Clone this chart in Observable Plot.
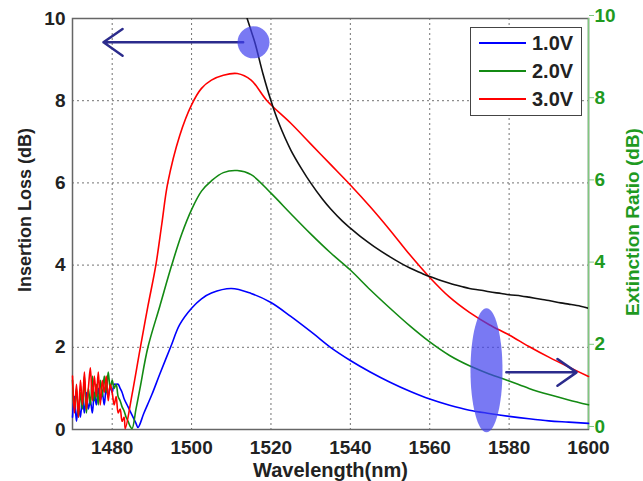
<!DOCTYPE html>
<html>
<head>
<meta charset="utf-8">
<script src="https://cdn.jsdelivr.net/npm/d3@7"></script>
<script src="https://cdn.jsdelivr.net/npm/@observablehq/plot@0.6"></script>
<style>
  html, body { margin: 0; padding: 0; background: #fff; }
  #wrap { position: relative; width: 643px; height: 481px; font-family: "Liberation Sans", Arial, sans-serif; }
  #legend { position: absolute; left: 470px; top: 27px; width: 110px; height: 87px; border: 1.5px solid #444; background: #fff; }
  #legend .row { position: absolute; left: 0; height: 24px; display: flex; align-items: center; }
  #legend .ln { width: 47px; height: 0; border-top: 2px solid; margin-left: 8px; margin-right: 6px; }
  #legend .tx { font-size: 20px; font-weight: bold; color: #222; }
</style>
</head>
<body>
<div id="wrap"><div id="chart"></div>
<div id="legend"></div>
</div>
<script>
// ---- data ----
const seriesNames = ["1.0V", "2.0V", "3.0V"];
const seriesColors = ["#0000ff", "#138a13", "#ff0000"];

const blueX = [1470,1470.5,1471,1471.5,1472,1472.5,1473,1473.5,1474,1474.5,1475,1475.5,1476,1476.5,1477,1477.5,1478,1478.5,1479,1479.5,1480,1480.5,1481,1481.5,1482,1482.5,1483,1484,1485,1486,1486.5,1488,1490,1492,1494.7,1497,1500,1502.5,1505,1510,1515,1520,1525,1530.7,1535,1540,1545,1550,1555,1560,1565,1570,1575,1580,1585,1590,1595,1600];
const blueY = [0.3,0.8,0.2,0.6,0.3,0.8,0.4,0.9,0.5,0.7,0.4,0.9,0.6,1.0,0.7,0.9,0.6,1.0,0.8,1.05,0.9,1.1,1.1,1.1,1.0,0.9,0.75,0.55,0.35,0.15,0.05,0.4,0.85,1.35,2.0,2.55,2.95,3.18,3.32,3.43,3.31,3.09,2.75,2.33,2.0,1.68,1.4,1.15,0.93,0.74,0.59,0.47,0.39,0.32,0.26,0.21,0.18,0.15];

const greenX = [1470,1470.5,1471,1471.5,1472,1472.5,1473,1473.5,1474,1474.5,1475,1475.5,1476,1476.5,1477,1477.5,1478,1478.5,1479,1479.5,1480,1480.5,1481,1481.5,1482,1482.5,1483,1483.5,1484,1484.5,1485,1486,1487,1489,1492,1495,1497.5,1500,1502.5,1505,1508,1511.5,1515,1520,1525,1530,1535,1540,1545,1550,1555,1560,1565,1570,1575,1580,1585,1590,1595,1600];
const greenY = [1.2,0.5,1.0,0.3,0.9,0.5,1.3,0.4,1.0,0.6,1.3,0.7,1.1,0.6,1.2,0.8,1.3,0.9,1.4,1.0,1.2,1.0,1.1,0.8,0.7,0.55,0.45,0.3,0.2,0.08,0.02,0.5,1.0,2.0,3.0,4.0,4.75,5.35,5.8,6.05,6.25,6.3,6.2,5.75,5.25,4.76,4.3,3.88,3.4,2.95,2.52,2.13,1.8,1.55,1.35,1.18,1.0,0.85,0.72,0.6];

const redX = [1470,1470.5,1471,1471.5,1472,1472.5,1473,1473.5,1474,1474.5,1475,1475.5,1476,1476.5,1477,1477.5,1478,1478.5,1479,1479.5,1480,1480.5,1481,1481.5,1482,1482.5,1483,1483.3,1485,1487.1,1489,1491,1492.5,1494,1497,1500,1502.5,1505,1508,1511.5,1515,1519,1525,1530,1535,1540,1545,1550,1555,1560,1565,1570,1575,1580,1585,1590,1595,1600];
const redY = [1.3,0.4,1.1,0.3,1.2,0.6,1.4,0.5,1.0,1.5,0.7,1.3,0.8,1.4,0.6,1.2,0.9,1.3,0.7,1.1,0.9,0.6,0.8,0.4,0.5,0.2,0.3,0.02,0.85,2.0,3.0,4.0,5.0,6.0,7.15,7.9,8.3,8.5,8.62,8.66,8.5,8.0,7.45,6.95,6.45,5.95,5.42,4.85,4.25,3.7,3.22,2.85,2.55,2.3,2.02,1.76,1.52,1.29];

const lossX = [1514,1515,1516,1518,1520,1522,1525,1528,1530,1533,1535,1538,1540,1543,1546,1550,1553,1555,1558,1560,1563,1565,1568,1570,1573,1575,1578,1580,1583,1585,1588,1590,1593,1595,1598,1600];
const lossY = [10,9.7,9.4,8.65,8.0,7.45,6.8,6.3,6.0,5.6,5.37,5.07,4.9,4.66,4.45,4.2,4.03,3.93,3.8,3.72,3.62,3.56,3.48,3.43,3.39,3.35,3.31,3.28,3.25,3.22,3.17,3.14,3.08,3.05,3.0,2.95];

const xTicks = [1480,1500,1520,1540,1560,1580,1600];
const yTicks = [0,2,4,6,8,10];

// annotations: [x, y] in data units
const circleMarker = [{x: 1515.6, y: 9.42}];
const leftArrow = [{x1: 1513, y1: 9.42, x2: 1477.8, y2: 9.42}];
const ellipseMarker = [{x: 1574.3, y: 1.44}];
const rightArrow = [{x1: 1579.3, y1: 1.39, x2: 1597, y2: 1.39}];

// ---- build ----
const rows = [];
[[blueX, blueY, 0], [greenX, greenY, 1], [redX, redY, 2]].forEach(([xs, ys, i]) => {
  xs.forEach((x, j) => rows.push({wl: x, v: ys[j], s: seriesNames[i]}));
});
const loss = lossX.map((x, j) => ({wl: x, v: lossY[j]}));

const ellipseSymbol = {
  draw(ctx) {
    const rx = 16, ry = 62, k = 0.5523;
    ctx.moveTo(rx, 0);
    ctx.bezierCurveTo(rx, ry * k, rx * k, ry, 0, ry);
    ctx.bezierCurveTo(-rx * k, ry, -rx, ry * k, -rx, 0);
    ctx.bezierCurveTo(-rx, -ry * k, -rx * k, -ry, 0, -ry);
    ctx.bezierCurveTo(rx * k, -ry, rx, -ry * k, rx, 0);
    ctx.closePath();
  }
};

const green = "#1f9a1f";
const font = "'Liberation Sans', Arial, sans-serif";

const chart = Plot.plot({
  width: 643,
  height: 481,
  marginLeft: 72,
  marginRight: 55,
  marginTop: 18,
  marginBottom: 52,
  style: {fontFamily: font, background: "#fff"},
  x: {domain: [1470, 1600]},
  y: {domain: [0, 10]},
  color: {domain: seriesNames, range: seriesColors},
  marks: [
    Plot.gridX(xTicks.slice(0, -1), {stroke: "#444", strokeOpacity: 0.75, strokeDasharray: "2,3"}),
    Plot.gridY(yTicks.slice(1, -1), {stroke: "#444", strokeOpacity: 0.75, strokeDasharray: "2,3"}),
    Plot.frame({stroke: "#666", strokeWidth: 1.5}),
    Plot.ruleX([1600], {stroke: "#80c880", strokeWidth: 1.5}),
    Plot.axisX({ticks: xTicks, tickFormat: d3.format("d"), tickSize: 0, tickPadding: 11, fontSize: 19, fontWeight: "bold", fill: "#222", label: null}),
    Plot.axisY({anchor: "left", ticks: yTicks, tickSize: 0, tickPadding: 7, fontSize: 19, fontWeight: "bold", fill: "#222", label: null}),
    Plot.axisY({anchor: "right", ticks: yTicks, tickSize: 5, tickPadding: 1, stroke: "#80c880", fill: green, fontSize: 19, fontWeight: "bold", dy: -3, label: null}),
    Plot.line(rows, {x: "wl", y: "v", z: "s", stroke: "s", strokeWidth: 1.6, curve: "catmull-rom"}),
    Plot.line(loss, {x: "wl", y: "v", stroke: "#111", strokeWidth: 1.6, curve: "catmull-rom", clip: true}),
    Plot.arrow(leftArrow, {x1: "x1", y1: "y1", x2: "x2", y2: "y2", stroke: "#2b2b8c", strokeWidth: 2.5, headLength: 14, headAngle: 70}),
    Plot.arrow(rightArrow, {x1: "x1", y1: "y1", x2: "x2", y2: "y2", stroke: "#2b2b8c", strokeWidth: 2.5, headLength: 14, headAngle: 70}),
    Plot.dot(circleMarker, {x: "x", y: "y", r: 16, fill: "#4040ee", fillOpacity: 0.7, stroke: "none"}),
    Plot.dot(ellipseMarker, {x: "x", y: "y", symbol: ellipseSymbol, fill: "#4040ee", fillOpacity: 0.7, stroke: "none"}),
    Plot.text(["Insertion Loss (dB)"], {frameAnchor: "left", rotate: -90, dx: -47, dy: -14, fontSize: 18, fontWeight: "bold", fill: "#222", textAnchor: "middle", lineAnchor: "middle"}),
    Plot.text(["Extinction Ratio (dB)"], {frameAnchor: "right", rotate: -90, dx: 44, dy: -2, fontSize: 19, fontWeight: "bold", fill: green, textAnchor: "middle", lineAnchor: "middle"}),
    Plot.text(["Wavelength(nm)"], {frameAnchor: "bottom", dy: 41, fontSize: 20, fontWeight: "bold", fill: "#222", textAnchor: "middle", lineAnchor: "middle"})
  ]
});
document.getElementById("chart").appendChild(chart);

const legend = document.getElementById("legend");
seriesNames.forEach((name, i) => {
  const row = document.createElement("div");
  row.className = "row";
  row.style.top = (3 + i * 28) + "px";
  const ln = document.createElement("div");
  ln.className = "ln";
  ln.style.borderTopColor = seriesColors[i];
  const tx = document.createElement("span");
  tx.className = "tx";
  tx.textContent = name;
  row.appendChild(ln);
  row.appendChild(tx);
  legend.appendChild(row);
});
</script>
</body>
</html>
